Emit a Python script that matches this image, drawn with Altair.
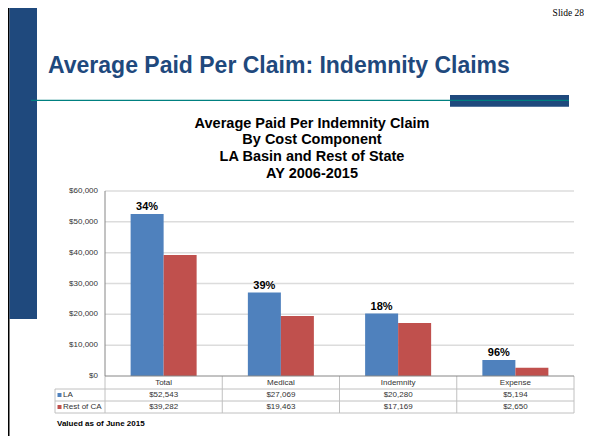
import altair as alt
import pandas as pd

# ---------------- data ----------------
categories = ["Total", "Medical", "Indemnity", "Expense"]
series = ["LA", "Rest of CA"]
la_values = [52543, 27069, 20280, 5194]
rest_values = [39282, 19463, 17169, 2650]
pct_labels = ["34%", "39%", "18%", "96%"]
y_ticks = [0, 10000, 20000, 30000, 40000, 50000, 60000]
y_tick_labels = ["$0", "$10,000", "$20,000", "$30,000", "$40,000", "$50,000", "$60,000"]
title_lines = ["Average Paid Per Indemnity Claim", "By Cost Component",
               "LA Basin and Rest of State", "AY 2006-2015"]
slide_title = "Average Paid Per Claim: Indemnity Claims"

# ---------------- layout / style ----------------
W, H = 576, 428
PL, PR, PT, PB = 97, 566, 183, 368          # plot area
R0, R1, R2, R3 = 368, 381, 393, 405          # table rows
LX = 47                                      # legend column left
STEP = (PR - PL) / 4
PAD = 0.437
BW = STEP * (1 - PAD)

BLUE, RED = "#4F81BD", "#C0504D"
NAVY, TEAL = "#1F497D", "#008080"
TXT = "#333333"
FONT = "Liberation Sans"

one = pd.DataFrame({"k": [0]})

def xscale():
    return alt.Scale(domain=categories, range=[PL, PR], paddingInner=PAD, paddingOuter=PAD / 2)

def yscale():
    return alt.Scale(domain=[0, 60000], range=[PB, PT], nice=False, zero=True)

def rule(x1, x2, y1, y2, color, w=1):
    return alt.Chart(one).mark_rule(color=color, strokeWidth=w).encode(
        x=alt.value(x1), x2=alt.value(x2), y=alt.value(y1), y2=alt.value(y2))

def rect(x1, x2, y1, y2, color):
    return alt.Chart(one).mark_rect(color=color).encode(
        x=alt.value(x1), x2=alt.value(x2), y=alt.value(y1), y2=alt.value(y2))

def label(txt, x, y, size=8, bold=False, align="left", baseline="alphabetic",
          color=TXT, font=FONT, **kw):
    return alt.Chart(one).mark_text(
        align=align, baseline=baseline, fontSize=size, font=font,
        fontWeight="bold" if bold else "normal", color=color, **kw
    ).encode(x=alt.value(x), y=alt.value(y), text=alt.value(txt))

bars_df = pd.DataFrame({
    "category": categories * 2,
    "series": [series[0]] * 4 + [series[1]] * 4,
    "value": la_values + rest_values,
})
pct_df = pd.DataFrame({"category": categories, "la": la_values, "pct": pct_labels})
tick_df = pd.DataFrame({"v": y_ticks, "lab": y_tick_labels})
tbl_df = pd.DataFrame({
    "category": categories,
    "la": ["${:,}".format(v) for v in la_values],
    "rest": ["${:,}".format(v) for v in rest_values],
})

layers = []

# slide decorations
layers.append(rect(0, 1.5, 0, H, "#000000"))
layers.append(rect(1.5, 29, 0, 311, NAVY))
layers.append(label("Slide 28", W, 8, size=9.5, align="right", color="#000000",
                    font="Liberation Serif"))
layers.append(label(slide_title, 40, 64.7, size=23, bold=True, color=NAVY))
layers.append(rect(442, 561, 87, 98.7, NAVY))
layers.append(rule(23, 561, 92.3, 92.3, TEAL, 1.2))

# chart title
layers.append(alt.Chart(one).mark_text(
    align="center", baseline="alphabetic", fontSize=14.5, fontWeight="bold",
    font=FONT, color="#000000", lineBreak="\n", lineHeight=16.8
).encode(x=alt.value(304), y=alt.value(119.7), text=alt.value("\n".join(title_lines))))

# gridlines
layers.append(alt.Chart(tick_df[tick_df.v > 0]).mark_rule(color="#DCDCDC", strokeWidth=1.5).encode(
    y=alt.Y("v:Q", scale=yscale(), axis=None), x=alt.value(PL), x2=alt.value(PR)))

# y tick labels
layers.append(alt.Chart(tick_df).mark_text(
    align="right", baseline="middle", fontSize=8, font=FONT, color=TXT
).encode(y=alt.Y("v:Q", scale=yscale(), axis=None), x=alt.value(PL - 7), text="lab:N"))

# bars
layers.append(alt.Chart(bars_df).mark_bar().encode(
    x=alt.X("category:N", sort=categories, scale=xscale(), axis=None),
    xOffset=alt.XOffset("series:N", sort=series,
                        scale=alt.Scale(domain=series, paddingInner=0, paddingOuter=0)),
    y=alt.Y("value:Q", scale=yscale(), axis=None),
    color=alt.Color("series:N", scale=alt.Scale(domain=series, range=[BLUE, RED]), legend=None),
))

# percent labels
layers.append(alt.Chart(pct_df).mark_text(
    align="center", baseline="alphabetic", fontSize=11, fontWeight="bold", font=FONT,
    color="#000000", dx=-BW / 4, dy=-3.5
).encode(x=alt.X("category:N", sort=categories, scale=xscale(), axis=None),
         y=alt.Y("la:Q", scale=yscale(), axis=None), text="pct:N"))

# axis lines
layers.append(rule(PL, PL, PT, PB, "#868686", 1))

# table lines
for yy in (R1, R2, R3):
    layers.append(rule(LX, PR, yy, yy, "#C0C0C0", 1))
for i in range(5):
    xx = PL + i * STEP
    layers.append(rule(xx, xx, R0, R3, "#C0C0C0", 1))
layers.append(rule(LX, LX, R1, R3, "#C0C0C0", 1))
layers.append(rule(PL, PR, PB, PB, "#868686", 1))

# table text
for field, yy in (("category", (R0 + R1) / 2), ("la", (R1 + R2) / 2), ("rest", (R2 + R3) / 2)):
    layers.append(alt.Chart(tbl_df).mark_text(
        align="center", baseline="middle", fontSize=8, font=FONT, color=TXT
    ).encode(x=alt.X("category:N", sort=categories, scale=xscale(), axis=None),
             y=alt.value(yy), text=f"{field}:N"))

# legend column
for s, col, yy in ((series[0], BLUE, (R1 + R2) / 2), (series[1], RED, (R2 + R3) / 2)):
    layers.append(rect(LX + 2.5, LX + 6.5, yy - 2, yy + 2, col))
    layers.append(label(s, LX + 8, yy, size=8, baseline="middle"))

# footnote
layers.append(label("Valued as of June 2015", 49, 418, size=8, bold=True, color="#000000"))

chart = alt.layer(*layers).resolve_scale(x="independent", y="independent", color="independent").properties(
    width=W, height=H, autosize=alt.AutoSizeParams(type="none"), padding=0
).configure_view(stroke=None)

chart.save("out.html", embed_options={"renderer": "svg", "actions": False})
